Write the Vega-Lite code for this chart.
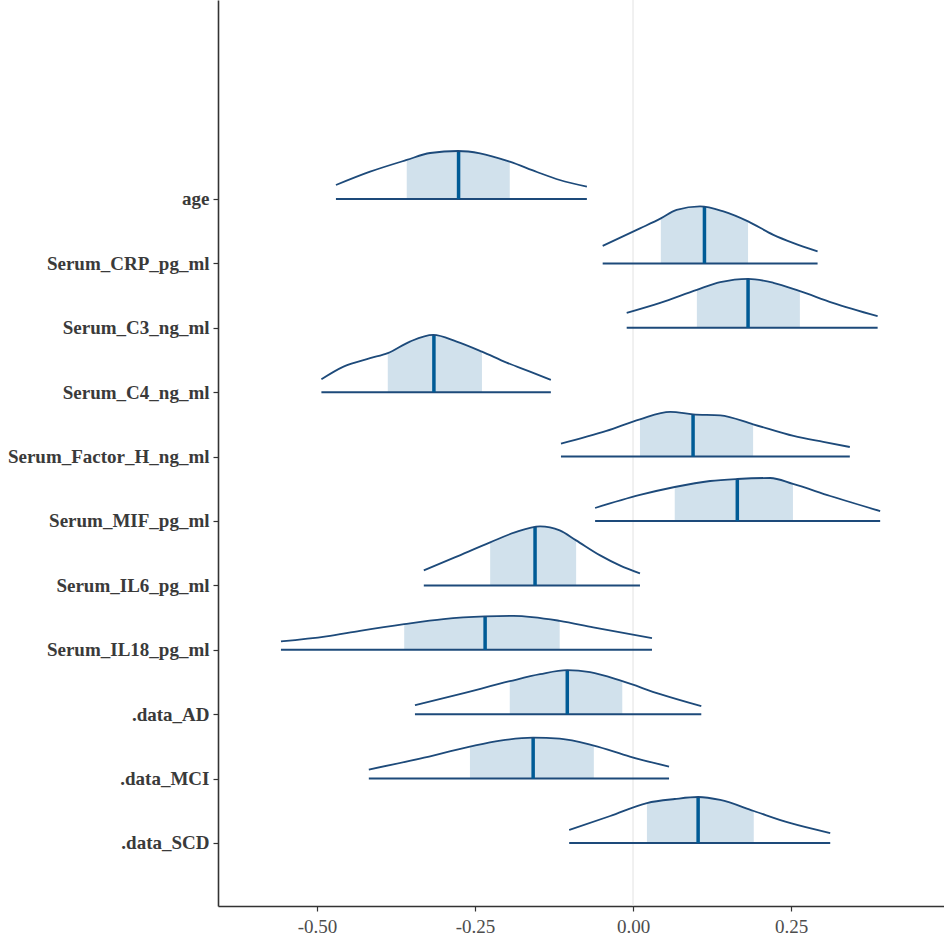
{
  "$schema": "https://vega.github.io/schema/vega-lite/v6.json",
  "width": 726,
  "height": 906,
  "autosize": "none",
  "padding": {"left": 218, "top": 0, "right": 0, "bottom": 36},
  "background": "white",
  "config": {"view": {"stroke": null}},
  "datasets": {
    "curve": [
      {"p": "age", "b": 11, "x": -0.470, "y": 11.217, "i": false},
      {"p": "age", "b": 11, "x": -0.416, "y": 11.424, "i": false},
      {"p": "age", "b": 11, "x": -0.358, "y": 11.606, "i": true},
      {"p": "age", "b": 11, "x": -0.321, "y": 11.714, "i": true},
      {"p": "age", "b": 11, "x": -0.277, "y": 11.745, "i": true},
      {"p": "age", "b": 11, "x": -0.242, "y": 11.710, "i": true},
      {"p": "age", "b": 11, "x": -0.195, "y": 11.579, "i": true},
      {"p": "age", "b": 11, "x": -0.152, "y": 11.419, "i": false},
      {"p": "age", "b": 11, "x": -0.116, "y": 11.295, "i": false},
      {"p": "age", "b": 11, "x": -0.073, "y": 11.191, "i": false},

      {"p": "Serum_CRP_pg_ml", "b": 10, "x": -0.048, "y": 10.272, "i": false},
      {"p": "Serum_CRP_pg_ml", "b": 10, "x": 0.011, "y": 10.543, "i": false},
      {"p": "Serum_CRP_pg_ml", "b": 10, "x": 0.044, "y": 10.699, "i": true},
      {"p": "Serum_CRP_pg_ml", "b": 10, "x": 0.069, "y": 10.831, "i": true},
      {"p": "Serum_CRP_pg_ml", "b": 10, "x": 0.106, "y": 10.885, "i": true},
      {"p": "Serum_CRP_pg_ml", "b": 10, "x": 0.143, "y": 10.807, "i": true},
      {"p": "Serum_CRP_pg_ml", "b": 10, "x": 0.182, "y": 10.652, "i": true},
      {"p": "Serum_CRP_pg_ml", "b": 10, "x": 0.222, "y": 10.443, "i": false},
      {"p": "Serum_CRP_pg_ml", "b": 10, "x": 0.253, "y": 10.318, "i": false},
      {"p": "Serum_CRP_pg_ml", "b": 10, "x": 0.292, "y": 10.186, "i": false},

      {"p": "Serum_C3_ng_ml", "b": 9, "x": -0.010, "y": 9.233, "i": false},
      {"p": "Serum_C3_ng_ml", "b": 9, "x": 0.043, "y": 9.388, "i": false},
      {"p": "Serum_C3_ng_ml", "b": 9, "x": 0.101, "y": 9.590, "i": true},
      {"p": "Serum_C3_ng_ml", "b": 9, "x": 0.138, "y": 9.708, "i": true},
      {"p": "Serum_C3_ng_ml", "b": 9, "x": 0.182, "y": 9.761, "i": true},
      {"p": "Serum_C3_ng_ml", "b": 9, "x": 0.222, "y": 9.699, "i": true},
      {"p": "Serum_C3_ng_ml", "b": 9, "x": 0.264, "y": 9.568, "i": true},
      {"p": "Serum_C3_ng_ml", "b": 9, "x": 0.316, "y": 9.388, "i": false},
      {"p": "Serum_C3_ng_ml", "b": 9, "x": 0.387, "y": 9.180, "i": false},

      {"p": "Serum_C4_ng_ml", "b": 8, "x": -0.493, "y": 8.202, "i": false},
      {"p": "Serum_C4_ng_ml", "b": 8, "x": -0.458, "y": 8.398, "i": false},
      {"p": "Serum_C4_ng_ml", "b": 8, "x": -0.416, "y": 8.528, "i": false},
      {"p": "Serum_C4_ng_ml", "b": 8, "x": -0.388, "y": 8.606, "i": true},
      {"p": "Serum_C4_ng_ml", "b": 8, "x": -0.353, "y": 8.786, "i": true},
      {"p": "Serum_C4_ng_ml", "b": 8, "x": -0.316, "y": 8.890, "i": true},
      {"p": "Serum_C4_ng_ml", "b": 8, "x": -0.279, "y": 8.786, "i": true},
      {"p": "Serum_C4_ng_ml", "b": 8, "x": -0.239, "y": 8.630, "i": true},
      {"p": "Serum_C4_ng_ml", "b": 8, "x": -0.200, "y": 8.460, "i": false},
      {"p": "Serum_C4_ng_ml", "b": 8, "x": -0.163, "y": 8.320, "i": false},
      {"p": "Serum_C4_ng_ml", "b": 8, "x": -0.130, "y": 8.191, "i": false},

      {"p": "Serum_Factor_H_ng_ml", "b": 7, "x": -0.114, "y": 7.202, "i": false},
      {"p": "Serum_Factor_H_ng_ml", "b": 7, "x": -0.042, "y": 7.398, "i": false},
      {"p": "Serum_Factor_H_ng_ml", "b": 7, "x": 0.011, "y": 7.579, "i": true},
      {"p": "Serum_Factor_H_ng_ml", "b": 7, "x": 0.059, "y": 7.693, "i": true},
      {"p": "Serum_Factor_H_ng_ml", "b": 7, "x": 0.095, "y": 7.657, "i": true},
      {"p": "Serum_Factor_H_ng_ml", "b": 7, "x": 0.138, "y": 7.641, "i": true},
      {"p": "Serum_Factor_H_ng_ml", "b": 7, "x": 0.190, "y": 7.502, "i": true},
      {"p": "Serum_Factor_H_ng_ml", "b": 7, "x": 0.254, "y": 7.320, "i": false},
      {"p": "Serum_Factor_H_ng_ml", "b": 7, "x": 0.301, "y": 7.227, "i": false},
      {"p": "Serum_Factor_H_ng_ml", "b": 7, "x": 0.343, "y": 7.149, "i": false},

      {"p": "Serum_MIF_pg_ml", "b": 6, "x": -0.060, "y": 6.202, "i": false},
      {"p": "Serum_MIF_pg_ml", "b": 6, "x": 0.011, "y": 6.404, "i": false},
      {"p": "Serum_MIF_pg_ml", "b": 6, "x": 0.066, "y": 6.528, "i": true},
      {"p": "Serum_MIF_pg_ml", "b": 6, "x": 0.122, "y": 6.621, "i": true},
      {"p": "Serum_MIF_pg_ml", "b": 6, "x": 0.165, "y": 6.652, "i": true},
      {"p": "Serum_MIF_pg_ml", "b": 6, "x": 0.217, "y": 6.668, "i": true},
      {"p": "Serum_MIF_pg_ml", "b": 6, "x": 0.253, "y": 6.575, "i": true},
      {"p": "Serum_MIF_pg_ml", "b": 6, "x": 0.312, "y": 6.388, "i": false},
      {"p": "Serum_MIF_pg_ml", "b": 6, "x": 0.391, "y": 6.155, "i": false},

      {"p": "Serum_IL6_pg_ml", "b": 5, "x": -0.331, "y": 5.233, "i": false},
      {"p": "Serum_IL6_pg_ml", "b": 5, "x": -0.282, "y": 5.435, "i": false},
      {"p": "Serum_IL6_pg_ml", "b": 5, "x": -0.226, "y": 5.668, "i": true},
      {"p": "Serum_IL6_pg_ml", "b": 5, "x": -0.187, "y": 5.823, "i": true},
      {"p": "Serum_IL6_pg_ml", "b": 5, "x": -0.147, "y": 5.916, "i": true},
      {"p": "Serum_IL6_pg_ml", "b": 5, "x": -0.116, "y": 5.854, "i": true},
      {"p": "Serum_IL6_pg_ml", "b": 5, "x": -0.090, "y": 5.699, "i": true},
      {"p": "Serum_IL6_pg_ml", "b": 5, "x": -0.052, "y": 5.466, "i": false},
      {"p": "Serum_IL6_pg_ml", "b": 5, "x": -0.021, "y": 5.311, "i": false},
      {"p": "Serum_IL6_pg_ml", "b": 5, "x": 0.011, "y": 5.186, "i": false},

      {"p": "Serum_IL18_pg_ml", "b": 4, "x": -0.557, "y": 4.130, "i": false},
      {"p": "Serum_IL18_pg_ml", "b": 4, "x": -0.485, "y": 4.208, "i": false},
      {"p": "Serum_IL18_pg_ml", "b": 4, "x": -0.432, "y": 4.295, "i": false},
      {"p": "Serum_IL18_pg_ml", "b": 4, "x": -0.362, "y": 4.399, "i": true},
      {"p": "Serum_IL18_pg_ml", "b": 4, "x": -0.300, "y": 4.477, "i": true},
      {"p": "Serum_IL18_pg_ml", "b": 4, "x": -0.234, "y": 4.519, "i": true},
      {"p": "Serum_IL18_pg_ml", "b": 4, "x": -0.189, "y": 4.528, "i": true},
      {"p": "Serum_IL18_pg_ml", "b": 4, "x": -0.116, "y": 4.450, "i": true},
      {"p": "Serum_IL18_pg_ml", "b": 4, "x": -0.063, "y": 4.348, "i": false},
      {"p": "Serum_IL18_pg_ml", "b": 4, "x": 0.030, "y": 4.182, "i": false},

      {"p": ".data_AD", "b": 3, "x": -0.345, "y": 3.140, "i": false},
      {"p": ".data_AD", "b": 3, "x": -0.274, "y": 3.311, "i": false},
      {"p": ".data_AD", "b": 3, "x": -0.195, "y": 3.512, "i": true},
      {"p": ".data_AD", "b": 3, "x": -0.147, "y": 3.621, "i": true},
      {"p": ".data_AD", "b": 3, "x": -0.104, "y": 3.683, "i": true},
      {"p": ".data_AD", "b": 3, "x": -0.068, "y": 3.652, "i": true},
      {"p": ".data_AD", "b": 3, "x": -0.017, "y": 3.512, "i": true},
      {"p": ".data_AD", "b": 3, "x": 0.043, "y": 3.311, "i": false},
      {"p": ".data_AD", "b": 3, "x": 0.108, "y": 3.124, "i": false},

      {"p": ".data_MCI", "b": 2, "x": -0.418, "y": 2.140, "i": false},
      {"p": ".data_MCI", "b": 2, "x": -0.337, "y": 2.311, "i": false},
      {"p": ".data_MCI", "b": 2, "x": -0.258, "y": 2.497, "i": true},
      {"p": ".data_MCI", "b": 2, "x": -0.210, "y": 2.590, "i": true},
      {"p": ".data_MCI", "b": 2, "x": -0.158, "y": 2.637, "i": true},
      {"p": ".data_MCI", "b": 2, "x": -0.116, "y": 2.621, "i": true},
      {"p": ".data_MCI", "b": 2, "x": -0.062, "y": 2.512, "i": true},
      {"p": ".data_MCI", "b": 2, "x": -0.005, "y": 2.342, "i": false},
      {"p": ".data_MCI", "b": 2, "x": 0.057, "y": 2.186, "i": false},

      {"p": ".data_SCD", "b": 1, "x": -0.101, "y": 1.202, "i": false},
      {"p": ".data_SCD", "b": 1, "x": -0.036, "y": 1.419, "i": false},
      {"p": ".data_SCD", "b": 1, "x": 0.022, "y": 1.621, "i": true},
      {"p": ".data_SCD", "b": 1, "x": 0.066, "y": 1.683, "i": true},
      {"p": ".data_SCD", "b": 1, "x": 0.103, "y": 1.714, "i": true},
      {"p": ".data_SCD", "b": 1, "x": 0.138, "y": 1.668, "i": true},
      {"p": ".data_SCD", "b": 1, "x": 0.191, "y": 1.497, "i": true},
      {"p": ".data_SCD", "b": 1, "x": 0.248, "y": 1.311, "i": false},
      {"p": ".data_SCD", "b": 1, "x": 0.312, "y": 1.155, "i": false}
    ],
    "summ": [
      {"p": "age", "b": 11, "lo": -0.470, "hi": -0.073, "med": -0.276, "mt": 11.745},
      {"p": "Serum_CRP_pg_ml", "b": 10, "lo": -0.048, "hi": 0.292, "med": 0.113, "mt": 10.88},
      {"p": "Serum_C3_ng_ml", "b": 9, "lo": -0.010, "hi": 0.387, "med": 0.182, "mt": 9.761},
      {"p": "Serum_C4_ng_ml", "b": 8, "lo": -0.493, "hi": -0.130, "med": -0.315, "mt": 8.889},
      {"p": "Serum_Factor_H_ng_ml", "b": 7, "lo": -0.114, "hi": 0.343, "med": 0.095, "mt": 7.657},
      {"p": "Serum_MIF_pg_ml", "b": 6, "lo": -0.060, "hi": 0.391, "med": 0.165, "mt": 6.652},
      {"p": "Serum_IL6_pg_ml", "b": 5, "lo": -0.331, "hi": 0.011, "med": -0.155, "mt": 5.91},
      {"p": "Serum_IL18_pg_ml", "b": 4, "lo": -0.557, "hi": 0.030, "med": -0.234, "mt": 4.519},
      {"p": ".data_AD", "b": 3, "lo": -0.345, "hi": 0.108, "med": -0.104, "mt": 3.683},
      {"p": ".data_MCI", "b": 2, "lo": -0.418, "hi": 0.057, "med": -0.158, "mt": 2.637},
      {"p": ".data_SCD", "b": 1, "lo": -0.101, "hi": 0.312, "med": 0.103, "mt": 1.714}
    ],
    "zero": [{"z": 0}]
  },
  "layer": [
    {
      "data": {"name": "zero"},
      "mark": {"type": "rule", "color": "#e3e3e3", "strokeWidth": 1},
      "encoding": {
        "x": {"field": "z", "type": "quantitative", "scale": {"domain": [-0.6566, 0.492], "nice": false, "zero": false},
          "axis": {"values": [-0.5, -0.25, 0, 0.25], "labelExpr": "replace(format(datum.value, '.2f'), '\u2212', '-')", "title": null, "grid": false,
            "domainColor": "#333333", "domainWidth": 1.6, "tickColor": "#333333", "tickWidth": 1.2, "tickSize": 5, "labelPadding": 6,
            "labelFont": "Liberation Serif", "labelFontSize": 19, "labelColor": "#4d4d4d"}}
      }
    },
    {
      "data": {"name": "curve"},
      "transform": [{"filter": "datum.i"}],
      "mark": {"type": "area", "color": "#d1e1ec", "interpolate": "monotone", "opacity": 1},
      "encoding": {
        "x": {"field": "x", "type": "quantitative"},
        "y": {"field": "y", "type": "quantitative", "scale": {"domain": [0.0217, 14.09], "nice": false, "zero": false},
          "axis": {"values": [1, 2, 3, 4, 5, 6, 7, 8, 9, 10, 11], "labelExpr": "['', '.data_SCD', '.data_MCI', '.data_AD', 'Serum_IL18_pg_ml', 'Serum_IL6_pg_ml', 'Serum_MIF_pg_ml', 'Serum_Factor_H_ng_ml', 'Serum_C4_ng_ml', 'Serum_C3_ng_ml', 'Serum_CRP_pg_ml', 'age'][datum.value]",
            "title": null, "grid": false, "domainColor": "#333333", "domainWidth": 1.6, "tickColor": "#333333", "tickWidth": 1.2, "tickSize": 5, "labelPadding": 4, "labelLimit": 0,
            "labelFont": "Liberation Serif", "labelFontSize": 19, "labelFontWeight": "bold", "labelColor": "#3a3a3a"}},
        "y2": {"field": "b"},
        "detail": {"field": "p"}
      }
    },
    {
      "data": {"name": "summ"},
      "mark": {"type": "rule", "color": "#1d4a7a", "strokeWidth": 2},
      "encoding": {
        "x": {"field": "lo", "type": "quantitative"},
        "x2": {"field": "hi"},
        "y": {"field": "b", "type": "quantitative"}
      }
    },
    {
      "data": {"name": "summ"},
      "mark": {"type": "rule", "color": "#005b96", "strokeWidth": 3.5},
      "encoding": {
        "x": {"field": "med", "type": "quantitative"},
        "y": {"field": "b", "type": "quantitative"},
        "y2": {"field": "mt"}
      }
    },
    {
      "data": {"name": "curve"},
      "mark": {"type": "line", "color": "#1d4a7a", "strokeWidth": 1.8, "interpolate": "monotone"},
      "encoding": {
        "x": {"field": "x", "type": "quantitative"},
        "y": {"field": "y", "type": "quantitative"},
        "detail": {"field": "p"}
      }
    }
  ]
}
